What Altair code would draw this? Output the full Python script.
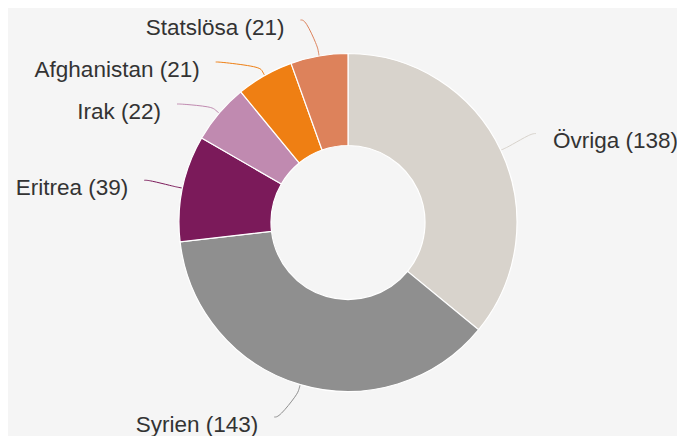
import math
import altair as alt
import pandas as pd

# ---- data ----
categories = ["Övriga", "Syrien", "Eritrea", "Irak", "Afghanistan", "Statslösa"]
values = [138, 143, 39, 22, 21, 21]
colors = ["#d8d3cc", "#8f8f8f", "#7b1a5a", "#c08ab0", "#ef7f13", "#dd825b"]

# ---- layout parameters ----
W, H = 669, 420
CX, CY = 340, 214.5          # pie centre in view pixels
R_OUT, R_IN = 169, 77
LABEL_R = 208                # radius on which label anchors sit
GAP = 42                     # minimal vertical distance between stacked labels
TOP = 202.5                  # highest allowed label anchor (data units, y up)
BOTTOM = -194.5              # lowest allowed label anchor

total = sum(values)
rows = []
cum = 0
for i, (c, v) in enumerate(zip(categories, values)):
    mid = (cum + v / 2) / total * 2 * math.pi
    cum += v
    rows.append(dict(idx=i, cat=c, val=v, mid=mid, label=f"{c} ({v})",
                     left=math.sin(mid) < 0))
df = pd.DataFrame(rows)

# label anchor layout (Highcharts-like: stacked, then placed on a circle)
anchors = {}
for side in (True, False):
    sub = sorted([r for r in rows if r["left"] == side],
                 key=lambda r: -LABEL_R * math.cos(r["mid"]))
    prev = None
    for r in sub:
        y = LABEL_R * math.cos(r["mid"])
        y = min(y, TOP if prev is None else prev - GAP)
        y = max(y, BOTTOM)
        prev = y
        dx = math.sqrt(max(LABEL_R ** 2 - y ** 2, 0))
        x = -dx if side else dx
        anchors[r["cat"]] = (x, y)

line_rows, lab_rows = [], []
for r in rows:
    lx, ly = anchors[r["cat"]]
    ux, uy = math.sin(r["mid"]), math.cos(r["mid"])
    s = 1 if r["left"] else -1
    pts = [(lx, ly), (lx + 5 * s, ly),
           ((R_OUT + 10) * ux, (R_OUT + 10) * uy),
           ((R_OUT + 5) * ux, (R_OUT + 5) * uy),
           (R_OUT * ux, R_OUT * uy)]
    for k, (px, py) in enumerate(pts):
        line_rows.append(dict(cat=r["cat"], k=k, x=px, y=py))
    lab_rows.append(dict(cat=r["cat"], label=r["label"], left=r["left"],
                         x=lx - 16 if r["left"] else lx + 17, y=ly - 7.5))
lines = pd.DataFrame(line_rows)
labs = pd.DataFrame(lab_rows)

xs = alt.Scale(domain=[-CX, W - CX])
ys = alt.Scale(domain=[-(H - CY), CY])
col = alt.Color("cat:N", scale=alt.Scale(domain=categories, range=colors), legend=None)

arcs = alt.Chart(df).mark_arc(radius=R_OUT, radius2=R_IN, stroke="white",
                              strokeWidth=1.2).encode(
    theta=alt.Theta("val:Q", stack=True),
    order=alt.Order("idx:Q"),
    color=col,
    x=alt.value(CX), y=alt.value(CY),
)

conn = alt.Chart(lines).mark_line(interpolate="basis", strokeWidth=1).encode(
    x=alt.X("x:Q", scale=xs, axis=None),
    y=alt.Y("y:Q", scale=ys, axis=None),
    detail="cat:N",
    order=alt.Order("k:Q"),
    color=col,
)

font = dict(font="Liberation Sans, Arial, sans-serif", fontSize=22.5,
            color="#333333", baseline="middle")
text_left = alt.Chart(labs[labs["left"]]).mark_text(align="right", **font).encode(
    x=alt.X("x:Q", scale=xs, axis=None),
    y=alt.Y("y:Q", scale=ys, axis=None),
    text="label:N",
)
text_right = alt.Chart(labs[~labs["left"]]).mark_text(align="left", **font).encode(
    x=alt.X("x:Q", scale=xs, axis=None),
    y=alt.Y("y:Q", scale=ys, axis=None),
    text="label:N",
)

chart = alt.layer(conn, arcs, text_left, text_right).properties(
    width=W, height=H, autosize="none",
    padding={"left": 0, "top": 0, "right": 0, "bottom": 8},
    background="#f5f5f5",
).configure_view(stroke=None)

chart.save("out.html", embed_options={"renderer": "svg", "actions": False})
